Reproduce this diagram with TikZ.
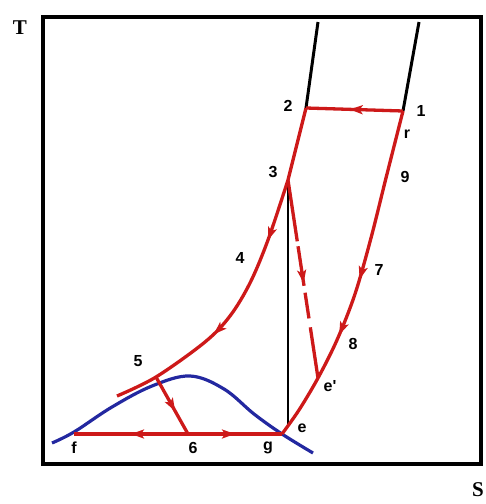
\documentclass[tikz,border=0pt]{standalone}
\usepackage{fontspec}
\setmainfont{Liberation Serif}
\newfontfamily\labfont{Liberation Sans}
\usetikzlibrary{arrows.meta,decorations.markings}
\definecolor{cred}{RGB}{205,25,25}
\definecolor{cblue}{RGB}{35,40,160}
\tikzset{
  redline/.style={draw=cred,line width=3.3pt},
  blackline/.style={draw=black,line width=3pt},
  blueline/.style={draw=cblue,line width=3.2pt},
  arr/.style={postaction={decorate,decoration={markings,mark=at position #1 with {\arrow[cred]{Stealth[length=13pt,width=9pt,inset=3pt]}}}}},
  lab/.style={font=\labfont\bfseries\fontsize{16}{16}\selectfont,inner sep=0pt},
  axis/.style={font=\bfseries\fontsize{21}{21}\selectfont,inner sep=0pt}
}
\begin{document}
\begin{tikzpicture}[x=1pt,y=-1pt]
\useasboundingbox (0,0) rectangle (486,504);
% frame
\draw[line width=4pt] (43,17) rectangle (481,464);
\node[axis] (T) at (20,28) {T};
\node[axis] (S) at (478,490) {S};
% points
\coordinate (p1) at (403,111);
\coordinate (p2) at (306,108);
\coordinate (p3) at (288,180);
\coordinate (p5) at (156,377);
\coordinate (p6) at (188,434);
\coordinate (pf) at (74,434);
\coordinate (pg) at (282,434);
\coordinate (pep) at (318,378);
\coordinate (t2) at (318,22);
\coordinate (t1) at (419,22);
\coordinate (eb) at (288,424);
% black lines
\draw[blackline] (t2) -- (p2);
\draw[blackline] (t1) -- (p1);
\draw[draw=black,line width=2.6pt] (p3) -- (eb);
% blue curve
\draw[blueline] plot[smooth,tension=0.6] coordinates {(52,443) (74,432) (112,407) (152,386) (190,376) (224,389) (254,414) (282,434) (313,453)};
% red cycle
\draw[redline,arr=0.55] (p1) -- (p2);
\draw[redline] (p2) -- (p3);
\draw[redline,arr=0.22,arr=0.6] plot[smooth,tension=0.55] coordinates {(288,180) (268,240) (250,283) (230,316) (205,342) (156,377) (117,396)};
\draw[redline,dash pattern=on 62pt off 5pt on 40pt off 7pt on 26pt off 9pt on 60pt,arr=0.52] (p3) -- (pep);
\draw[redline,arr=0.5,arr=0.67] plot[smooth,tension=0.55] coordinates {(403,111) (386,178) (371,238) (355,294) (337,340) (318,378) (299,410) (282,434)};
\draw[redline,arr=0.6] (p5) -- (p6);
\draw[redline,arr=0.5] (p6) -- (pf);
\draw[redline,arr=0.5] (p6) -- (pg);
% labels
\node[lab] (l1) at (421,111) {1};
\node[lab] (l2) at (288,106) {2};
\node[lab] (l3) at (273,172) {3};
\node[lab] (l4) at (240,258) {4};
\node[lab] (l5) at (138,361) {5};
\node[lab] (l6) at (193,448) {6};
\node[lab] (l7) at (379,270) {7};
\node[lab] (l8) at (353,344) {8};
\node[lab] (l9) at (405,177) {9};
\node[lab] (lr) at (407,134) {r};
\node[lab] (le) at (302,428) {e};
\node[lab] (lep) at (330,386) {e'};
\node[lab] (lf) at (74,448) {f};
\node[lab] (lg) at (268,448) {g};
\end{tikzpicture}
\end{document}
